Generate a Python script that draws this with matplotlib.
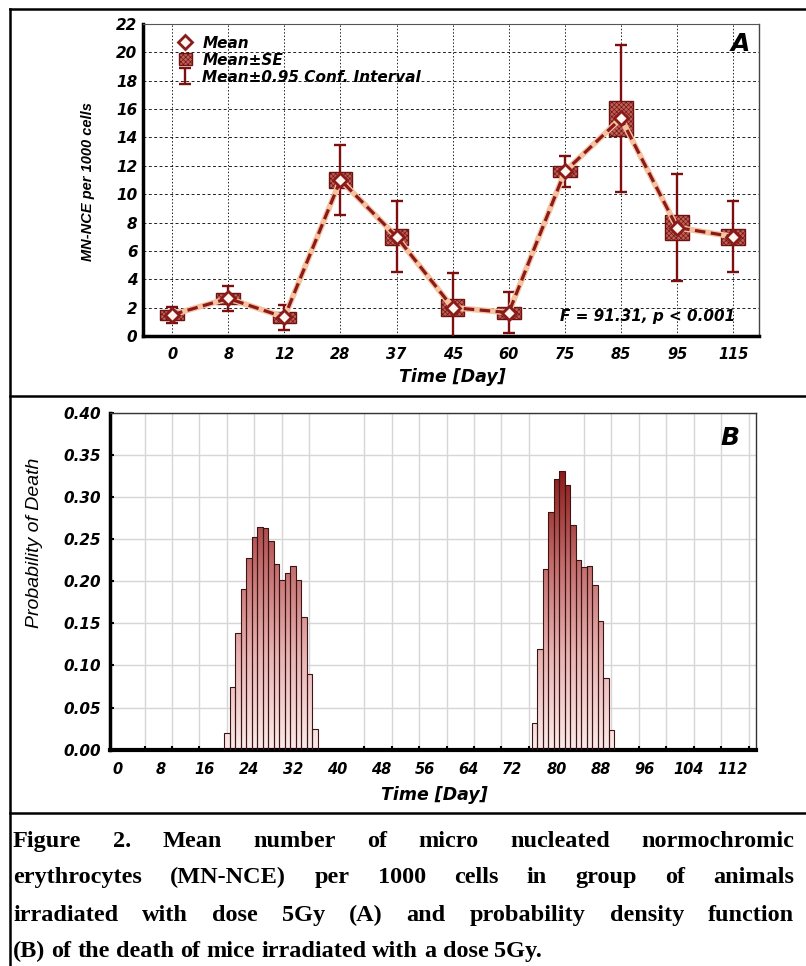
import numpy as np
import matplotlib
matplotlib.use('Agg')
import matplotlib.pyplot as plt
from matplotlib.colors import LinearSegmentedColormap, Normalize
from matplotlib.lines import Line2D

# ---------------- Panel A data ----------------
days_a = ['0', '8', '12', '28', '37', '45', '60', '75', '85', '95', '115']
mean_a = [1.50, 2.65, 1.32, 11.00, 7.00, 2.00, 1.65, 11.60, 15.35, 7.65, 7.00]
se_a = [0.36, 0.40, 0.38, 0.58, 0.55, 0.58, 0.42, 0.42, 1.22, 0.90, 0.55]
ci_a = [0.56, 0.89, 0.87, 2.50, 2.50, 2.45, 1.43, 1.10, 5.18, 3.80, 2.50]
yticks_a = [0, 2, 4, 6, 8, 10, 12, 14, 16, 18, 20, 22]

# ---------------- Panel B data ----------------
days_b = [20, 21, 22, 23, 24, 25, 26, 27, 28, 29, 30, 31, 32, 33, 34, 35, 36,
          76, 77, 78, 79, 80, 81, 82, 83, 84, 85, 86, 87, 88, 89, 90]
prob_b = [0.020, 0.075, 0.139, 0.191, 0.228, 0.253, 0.264, 0.263, 0.248, 0.220,
          0.201, 0.210, 0.218, 0.201, 0.158, 0.090, 0.024,
          0.032, 0.119, 0.215, 0.282, 0.321, 0.331, 0.314, 0.267, 0.225,
          0.217, 0.218, 0.196, 0.153, 0.085, 0.023]
xticks_b = [0, 8, 16, 24, 32, 40, 48, 56, 64, 72, 80, 88, 96, 104, 112]
xgrid_b = [0, 5, 10, 15, 20, 25, 30, 35, 40, 45, 50, 55, 60, 65, 70, 75, 80,
           85, 90, 95, 100, 105, 110, 115]
yticks_b = [0.00, 0.05, 0.10, 0.15, 0.20, 0.25, 0.30, 0.35, 0.40]
yticklabels_b = ['0.00', '0.05', '0.10', '0.15', '0.20', '0.25', '0.30', '0.35', '0.40']

caption_lines = [
    "Figure 2. Mean number of micro nucleated normochromic",
    "erythrocytes (MN-NCE) per 1000 cells in group of animals",
    "irradiated with dose 5Gy (A) and probability density function",
    "(B) of the death of mice irradiated with a dose 5Gy.",
]

plt.rcParams['font.family'] = ['DejaVu Sans']
plt.rcParams['font.style'] = 'italic'
plt.rcParams['font.weight'] = 'bold'
plt.rcParams['hatch.linewidth'] = 0.45

W, H = 806, 966
def fx(x):
    return x / W
def fy(y):
    return 1 - y / H

fig = plt.figure(figsize=(W / 100, H / 100), dpi=100)

# ================= Panel A =================
ax1 = fig.add_axes([fx(143), fy(336), (759 - 143) / W, (336 - 24) / H])
x = np.arange(len(days_a))
mean = np.array(mean_a)
se = np.array(se_a)

eb = ax1.errorbar(x, mean, yerr=ci_a, fmt='none', ecolor='#7d0f0f',
                  elinewidth=1.7, capsize=4.3, capthick=1.7, zorder=3,
                  label='Mean±0.95 Conf. Interval')
bx = ax1.bar(x, 2 * se, bottom=mean - se, width=0.42, facecolor='#bf5f55',
             edgecolor='#6e1212', hatch='xxxxxxx', lw=1.0, zorder=4, label='Mean±SE')
ax1.plot(x, mean, color='#f6c3a0', lw=4.2, zorder=5)
ax1.plot(x, mean, color='#8b1a1a', lw=2.3, dashes=(3.3, 1.7), zorder=6)
mk, = ax1.plot(x, mean, 'D', ms=7.5, mfc='#fff6f0', mec='#8b1a1a', mew=2.0,
               zorder=7, label='Mean')

ax1.set_xlim(-0.52, 10.46)
ax1.set_ylim(0, 22)
ax1.set_xticks(x)
ax1.set_xticklabels(days_a, fontsize=10.5)
ax1.set_yticks(yticks_a)
ax1.set_yticklabels([str(v) for v in yticks_a], fontsize=11)
ax1.tick_params(axis='x', length=0, pad=8)
ax1.tick_params(axis='y', length=0, pad=4)
ax1.xaxis.grid(True, color='#222222', lw=0.7, ls=(0, (1.5, 2)))
ax1.yaxis.grid(True, color='#222222', lw=0.7, ls=(0, (3, 2.5)))
ax1.set_axisbelow(True)
for s, lw, c in [('left', 2.5, 'black'), ('bottom', 2.5, 'black'),
                 ('top', 0.8, '#555555'), ('right', 1.0, '#444444')]:
    ax1.spines[s].set_linewidth(lw)
    ax1.spines[s].set_color(c)

leg = ax1.legend([mk, bx, eb], ['Mean', 'Mean±SE', 'Mean±0.95 Conf. Interval'],
                 loc='upper left', bbox_to_anchor=(0.058, 0.963), frameon=False,
                 borderpad=0, borderaxespad=0, handlelength=0.85, handleheight=0.85,
                 handletextpad=0.7, labelspacing=0.14, fontsize=11)

ax1.text(0.985, 0.935, 'A', transform=ax1.transAxes, ha='right', va='center',
         fontsize=18)
fig.text(fx(735), fy(317), 'F = 91.31, p < 0.001', ha='right', va='center',
         fontsize=11)
fig.text(fx(452), fy(377), 'Time [Day]', ha='center', va='center', fontsize=12.5)
fig.text(fx(88), fy(182), 'MN-NCE per 1000 cells', rotation=90, ha='center',
         va='center', fontsize=10.5, family=['Liberation Sans'])

# ================= Panel B =================
ax2 = fig.add_axes([fx(110.5), fy(749.7), (755.7 - 110.5) / W, (749.7 - 412.7) / H])
cmap = LinearSegmentedColormap.from_list(
    'deathgrad', ['#fbeaea', '#e8b3b3', '#c26a6a', '#8a1818'])
norm = Normalize(0, 0.335)
grad = np.linspace(0, 0.40, 400).reshape(-1, 1)

bars = ax2.bar(days_b, prob_b, width=1.0, facecolor='none', edgecolor='#3b1414',
               lw=0.8, zorder=3)
for b in bars:
    im = ax2.imshow(grad, extent=[b.get_x(), b.get_x() + b.get_width(), 0, 0.40],
                    origin='lower', aspect='auto', cmap=cmap, norm=norm,
                    zorder=2.5, interpolation='bilinear')
    im.set_clip_path(b)

ax2.set_xlim(-1.2, 116.3)
ax2.set_ylim(0, 0.40)
ax2.set_xticks(xticks_b)
ax2.set_xticklabels([str(v) for v in xticks_b], fontsize=10.5)
ax2.set_xticks(xgrid_b, minor=True)
ax2.set_yticks(yticks_b)
ax2.set_yticklabels(yticklabels_b, fontsize=11)
ax2.tick_params(axis='x', which='major', length=0, pad=9)
ax2.tick_params(axis='x', which='minor', length=3, width=1.5, direction='in')
ax2.tick_params(axis='y', length=3, width=1.5, direction='in', pad=7)
ax2.xaxis.grid(True, which='minor', color='#d6d6d6', lw=1.0)
ax2.yaxis.grid(True, which='major', color='#d6d6d6', lw=1.0)
ax2.set_axisbelow(True)
for s, lw, c in [('left', 2.5, 'black'), ('bottom', 3.0, 'black'),
                 ('top', 1.0, '#333333'), ('right', 1.0, '#333333')]:
    ax2.spines[s].set_linewidth(lw)
    ax2.spines[s].set_color(c)

ax2.text(0.975, 0.925, 'B', transform=ax2.transAxes, ha='right', va='center',
         fontsize=18)
fig.text(fx(434), fy(795), 'Time [Day]', ha='center', va='center', fontsize=12.5)
fig.text(fx(35), fy(543), 'Probability of Death', rotation=90, ha='center',
         va='center', fontsize=14, family=['Liberation Sans'], weight='normal')

# ================= Frame lines =================
for xs, ys, lw in [([10, W], [9, 9], 1.8), ([10, 10], [9, H], 1.8),
                   ([10, W], [396, 396], 1.8), ([10, W], [813, 813], 1.8)]:
    fig.add_artist(Line2D([fx(v) for v in xs], [fy(v) for v in ys], color='black',
                          lw=lw, transform=fig.transFigure))

# ================= Caption (justified) =================
renderer = fig.canvas.get_renderer()
baselines = [846.7, 883.3, 921.0, 956.7]
left, right = 13, 794
cap_fs = 17.5
for i, line in enumerate(caption_lines):
    words = line.split(' ')
    txts = [fig.text(0, fy(baselines[i]), w, ha='left', va='baseline',
                     fontsize=cap_fs, family=['Liberation Serif'], style='normal',
                     weight='bold') for w in words]
    widths = [t.get_window_extent(renderer).width for t in txts]
    if i < 3:
        gap = (right - left - sum(widths)) / (len(words) - 1)
    else:
        sp = fig.text(0, 0, 'a a', fontsize=cap_fs, family=['Liberation Serif'],
                      weight='bold', style='normal')
        sa = fig.text(0, 0, 'aa', fontsize=cap_fs, family=['Liberation Serif'],
                      weight='bold', style='normal')
        gap = sp.get_window_extent(renderer).width - sa.get_window_extent(renderer).width
        sp.remove()
        sa.remove()
    xpos = left
    for t, w in zip(txts, widths):
        t.set_x(fx(xpos))
        xpos += w + gap

fig.savefig('out.png', dpi=100)
